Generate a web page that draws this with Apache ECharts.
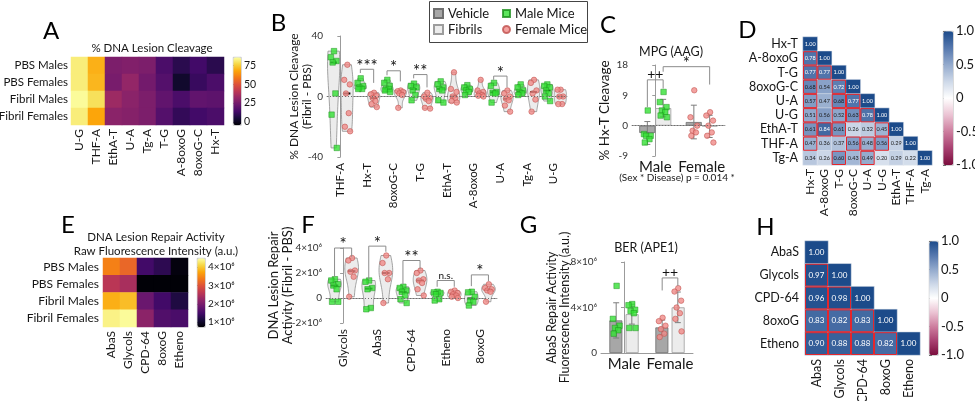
<!DOCTYPE html>
<html><head><meta charset="utf-8">
<script src="https://cdn.jsdelivr.net/npm/echarts@6/dist/echarts.min.js"></script>
<style>html,body{margin:0;padding:0;background:#fff}#c{width:975px;height:401px}</style>
</head><body><div id="c"></div>
<script>
// ================= DATA =================
// Panel A: % DNA lesion cleavage heatmap
const heatRows = ['PBS Males','PBS Females','Fibril Males','Fibril Females'];
const cleaveCats = ['U-G','THF-A','EthA-T','U-A','Tg-A','T-G','A-8oxoG','8oxoG-C','Hx-T'];
const cleavePBSMales      = [82, 70, 27, 28, 27, 16,  9, 14,  9];
const cleavePBSFemales    = [82, 71, 26, 32, 25, 18,  3, 12, 16];
const cleaveFibrilMales   = [85, 79, 34, 30, 27, 21, 16, 21, 20];
const cleaveFibrilFemales = [82, 68, 30, 29, 27, 18, 11, 14, 16];
const cleaveScaleTicks = [0, 25, 50, 75];

// Panel B: difference (Fibril - PBS), per lesion, male / female mice
const lesionCatsB = ['THF-A','Hx-T','8oxoG-C','T-G','EthA-T','A-8oxoG','U-A','Tg-A','U-G'];
const diffMaleB = [
  [30, 26, 23.5, 22.5, 2, -12, -34],
  [12, 9, 7, 6, 5, 5],
  [11, 9, 7, 5, 5, 4, 3],
  [8.5, 7, 6, 4, 1, -2.5],
  [10, 8, 6, 5, 4, -2.5, -4],
  [7.5, 6, 5, 4, 3, 1],
  [9, 7, 3, 2.5, 2, -4],
  [8, 6, 4, 3, 2, 1],
  [8, 7, 6, 4, 2, 0, -3]
];
const diffFemaleB = [
  [21, 11, 8, 2, -11, -20, -23],
  [2.5, 1.5, 0.5, -1, -3, -5, -7],
  [4, 3.5, 3, 2, 1, -7.5],
  [2.5, 0, -1, -1.5, -3, -7.5, -8],
  [16, 5, 3, 0, -1, -3, -4],
  [11, 4, 3, 2, 1, 0.5, 0],
  [4, 2, 0, -1.5, -2.5, -6, -10],
  [11, 9, 4, 2, -2, -10],
  [4.5, 4.5, 0, 0, -5, -5]
];
const sigB_cats = ['Hx-T','8oxoG-C','T-G','U-A'];
const sigB_level = [18, 17, 14.5, 13.5];
const sigB_leftEnd = [15.5, 14, 12, 11];
const sigB_rightEnd = [9, 10, 6, 6];
const sigB_text = ['***','*','**','*'];

// Panel C: MPG (AAG) % Hx-T cleavage
const sexCats = ['Male','Female'];
const mpgMaleVehicle   = [4.5, -2.5, -3, -3, -4, -5];
const mpgMaleFibrils   = [10, 7, 5.5, 4.5, 4, 3, 2.5];
const mpgFemaleVehicle = [10.5, 2.5, 0, -1.5, -2, -3];
const mpgFemaleFibrils = [4, 3, 1.5, 0, -2, -3, -5];
const sigC_from = [[0,0],[0,1]];   // [sex, treatment]
const sigC_to   = [[0,1],[1,1]];
const sigC_level = [13.6, 17.5];
const sigC_leftEnd = [5.5, 16];
const sigC_rightEnd = [11, 12.2];
const sigC_text = ['++','*'];

// Panel D: correlation matrix (lower triangle)
const corrLabelsD = ['Hx-T','A-8oxoG','T-G','8oxoG-C','U-A','U-G','EthA-T','THF-A','Tg-A'];
const corrD = [
  [1.00],
  [0.78, 1.00],
  [0.77, 0.77, 1.00],
  [0.68, 0.54, 0.72, 1.00],
  [0.57, 0.47, 0.68, 0.77, 1.00],
  [0.51, 0.56, 0.52, 0.63, 0.78, 1.00],
  [0.61, 0.84, 0.61, 0.26, 0.32, 0.45, 1.00],
  [0.47, 0.36, 0.37, 0.56, 0.48, 0.56, 0.29, 1.00],
  [0.34, 0.26, 0.60, 0.43, 0.49, 0.20, 0.29, 0.22, 1.00]
];
const sigCellsD = [[1,0],[2,0],[3,0],[4,0],[5,0],[6,0],[7,0],[2,1],[6,1],[3,2],[4,2],[5,2],[6,2],[8,2],[4,3],[5,3],[7,3],[5,4],[7,4],[8,4],[6,5],[7,5]];
const corrTicks = [-1, -0.5, 0, 0.5, 1];

// Panel E: raw fluorescence (x10^6)
const repairCatsE = ['AbaS','Glycols','CPD-64','8oxoG','Etheno'];
const rawPBSMales      = [3.44, 3.20, 1.48, 1.30, 0.80];
const rawPBSFemales    = [2.60, 2.43, 0.75, 0.75, 0.75];
const rawFibrilMales   = [3.82, 3.93, 1.86, 1.48, 1.18];
const rawFibrilFemales = [4.38, 4.46, 2.16, 1.63, 1.56];
const rawScaleTicks = [1, 2, 3, 4];

// Panel F: repair activity difference (x10^6)
const repairCatsF = ['Glycols','AbaS','CPD-64','Etheno','8oxoG'];
const diffMaleF = [
  [1.5, 1.4, 1.1, 1.0, 0.7, -0.3, -0.3],
  [1.4, 1.3, 0.8, 0.7, -0.8, -0.9],
  [0.9, 0.8, 0.6, 0.5, 0.2, -0.1, -0.4],
  [0.5, 0.45, 0.4, 0.3, -0.1, -0.2],
  [0.5, 0.45, 0.1, -0.2, -0.3, -0.6]
];
const diffFemaleF = [
  [3.2, 3.0, 2.2, 2.1, 1.7, 0.1],
  [3.4, 2.8, 2.0, 2.0, 1.5, -0.4],
  [2.2, 2.0, 1.5, 1.4, 1.2, 0.7, 0.2],
  [0.6, 0.5, 0.4, 0.3, 0.2, 0.1, 0],
  [1.1, 0.8, 0.7, 0.6, 0.5, -0.3]
];
const sigF_cats = ['Glycols','AbaS','CPD-64','Etheno','8oxoG'];
const sigF_level = [4.0, 4.15, 3.0, 1.4, 1.85];
const sigF_leftEnd = [1.7, 1.5, 1.1, 0.9, 0.95];
const sigF_rightEnd = [3.3, 3.7, 2.3, 0.9, 1.35];
const sigF_text = ['*','*','**','n.s.','*'];

// Panel G: BER (APE1) AbaS repair (x10^6)
const apeMaleVehicle   = [5.9, 3.0, 2.4, 2.2, 2.0, 1.7];
const apeMaleFibrils   = [4.3, 4.2, 3.8, 3.7, 3.5, 2.2, 2.2];
const apeFemaleVehicle = [3.1, 2.8, 2.4, 2.1, 1.7, 1.4];
const apeFemaleFibrils = [5.7, 5.4, 4.6, 4.0, 3.5, 3.0, 1.9];
const sigG_from = [[1,0]];
const sigG_to   = [[1,1]];
const sigG_level = [6.6];
const sigG_leftEnd = [5.5];
const sigG_rightEnd = [5.9];
const sigG_text = ['++'];

// Panel H: correlation matrix
const corrLabelsH = ['AbaS','Glycols','CPD-64','8oxoG','Etheno'];
const corrH = [
  [1.00],
  [0.97, 1.00],
  [0.96, 0.98, 1.00],
  [0.83, 0.82, 0.83, 1.00],
  [0.90, 0.88, 0.88, 0.82, 1.00]
];
const sigCellsH = [[1,0],[2,0],[2,1],[3,0],[3,1],[3,2],[4,0],[4,1],[4,2],[4,3]];

// ================= STYLE / HELPERS =================
const FONT = 'Lato, "Noto Sans", "DejaVu Sans", sans-serif';
const TXT = '#161616';
const AX = '#9b9b9b';
const INFERNO = ['#000004','#160b39','#420a68','#6a176e','#932667','#bc3754','#dd513a','#f37819','#fca50a','#f6d746','#fcffa4'];
const DIVERGE = ['#7a0d3d','#a84070','#cd7d9e','#ebc3d3','#ffffff','#cdd8e8','#93aacd','#5678ae','#1c4b8a'];
const JIT = [0.1, -0.8, 0.8, -0.3, 0.5, -0.6, 0.9, -0.2];
const GREEN = {color:'#35e035', borderColor:'#1c8f1c', borderWidth:0.6};
const PINK = {color:'#f08b88', borderColor:'#c0504d', borderWidth:0.7};

const mean = a => a.reduce((s,v)=>s+v,0)/a.length;
const sd = a => { const m = mean(a); return Math.sqrt(a.reduce((s,v)=>s+(v-m)*(v-m),0)/(a.length-1)); };

function heatData(rows){ const d=[]; rows.forEach((r,ri)=>r.forEach((v,ci)=>d.push([ci,ri,v]))); return d; }
function corrData(mat){ const d=[]; mat.forEach((r,ri)=>r.forEach((v,ci)=>d.push({value:[ci,ri,v], label:{color: v>=0.7?'#ffffff':'#1a1a1a'}}))); return d; }

function violinShape(vals, cx, halfW, api){
  const s = vals.slice().sort((a,b)=>a-b);
  const n = s.length, lo = s[0], hi = s[n-1];
  const h = Math.max(1.06*sd(s)*Math.pow(n,-0.2), 1e-6);
  const steps = 28, ys=[], ds=[];
  for(let k=0;k<=steps;k++){ const y=lo+(hi-lo)*k/steps; let d=0; for(const v of s) d+=Math.exp(-0.5*((y-v)/h)*((y-v)/h)); ys.push(y); ds.push(d); }
  const dmax = Math.max(...ds);
  const L=[], R=[];
  for(let k=0;k<=steps;k++){ const w=halfW*(0.12+0.88*ds[k]/dmax); L.push(api.coord([cx-w,ys[k]])); R.push(api.coord([cx+w,ys[k]])); }
  const med = n%2 ? s[(n-1)/2] : (s[n/2-1]+s[n/2])/2;
  const m1 = api.coord([cx-halfW*0.55, med]), m2 = api.coord([cx+halfW*0.55, med]);
  return {type:'group', children:[
    {type:'polygon', shape:{points:L.concat(R.reverse())}, style:{fill:'#ececec', stroke:'#8d8d8d', lineWidth:0.8}},
    {type:'line', shape:{x1:m1[0],y1:m1[1],x2:m2[0],y2:m2[1]}, style:{stroke:'#000', lineWidth:2}}
  ]};
}
function violinSeries(xi, yi, maleArr, femArr, off, halfW){
  const data=[]; maleArr.forEach((_,i)=>{ data.push([i-off,0]); data.push([i+off,0]); });
  return {type:'custom', xAxisIndex:xi, yAxisIndex:yi, silent:true, z:1, data,
    renderItem:(params, api)=>{ const i=Math.floor(params.dataIndex/2), s=params.dataIndex%2;
      return violinShape((s?femArr:maleArr)[i], i+(s?off:-off), halfW, api); }};
}
function groupPoints(groups, amp){ // groups: [[centerX, values], ...]
  const pts=[]; groups.forEach(([cx, vals])=>vals.forEach((v,k)=>pts.push([cx+JIT[k%JIT.length]*amp, v]))); return pts;
}
function scatterSeries(name, xi, yi, pts, sex, zeroLine){
  const s = {name, type:'scatter', xAxisIndex:xi, yAxisIndex:yi, z:4, silent:true, data:pts,
    symbol: sex===0?'rect':'circle', symbolSize: sex===0?5.5:5.5, itemStyle: sex===0?GREEN:PINK};
  if(zeroLine) s.markLine = {silent:true, symbol:'none', label:{show:false}, lineStyle:{type:[1,2], color:'#6f6f6f', width:1}, data:[{yAxis:0}]};
  return s;
}
function bracketSeries(xi, yi, x1s, x2s, levels, lefts, rights, texts){
  return {type:'custom', xAxisIndex:xi, yAxisIndex:yi, silent:true, z:5,
    data: levels.map((l,i)=>[(x1s[i]+x2s[i])/2, l]),
    renderItem:(params, api)=>{ const i=params.dataIndex;
      const a=api.coord([x1s[i], lefts[i]]), b=api.coord([x1s[i], levels[i]]), c=api.coord([x2s[i], levels[i]]), d=api.coord([x2s[i], rights[i]]);
      const t=texts[i]; const isStar=t.indexOf('*')>=0, isNs=t==='n.s.';
      const fs = isStar?17:(isNs?10:14); const dy = isStar?3:(isNs?5:5);
      return {type:'group', children:[
        {type:'polyline', shape:{points:[a,b,c,d]}, style:{stroke:'#8c8c8c', lineWidth:1, fill:'none'}},
        {type:'text', x:(b[0]+c[0])/2, y:b[1]-dy, style:{text:t, fontSize:fs, fontFamily:FONT, fill:'#111', align:'center', verticalAlign:'middle', textAlign:'center', textVerticalAlign:'middle'}}
      ]}; }};
}
function errSeries(xi, yi, items){
  return {type:'custom', xAxisIndex:xi, yAxisIndex:yi, silent:true, z:3, data:items,
    renderItem:(params, api)=>{ const x=api.value(0), m=api.value(1), e=api.value(2);
      const t=api.coord([x,m+e]), b=api.coord([x,m-e]);
      return {type:'group', children:[
        {type:'line', shape:{x1:t[0],y1:t[1],x2:b[0],y2:b[1]}, style:{stroke:'#7d7d7d', lineWidth:1}},
        {type:'line', shape:{x1:t[0]-3,y1:t[1],x2:t[0]+3,y2:t[1]}, style:{stroke:'#7d7d7d', lineWidth:1}},
        {type:'line', shape:{x1:b[0]-3,y1:b[1],x2:b[0]+3,y2:b[1]}, style:{stroke:'#7d7d7d', lineWidth:1}}
      ]}; }};
}
function outlineSeries(xi, yi, cells){
  return {type:'custom', xAxisIndex:xi, yAxisIndex:yi, silent:true, z:6, data:cells.map(c=>[c[1],c[0]]),
    renderItem:(params, api)=>{ const p=api.coord([api.value(0),api.value(1)]); const s=api.size([1,1]);
      return {type:'rect', shape:{x:p[0]-s[0]/2+0.5, y:p[1]-s[1]/2+0.5, width:s[0]-1, height:s[1]-1}, style:{fill:'none', stroke:'#e5262c', lineWidth:1}}; }};
}
const sup6 = v => v===0 ? '0' : v + '×10⁶';
const hideAxis = g => ({gridIndex:g, type:'value', min:0, max:1, show:false});
const heatCatX = (g, data, fs) => ({gridIndex:g, type:'category', data, axisLine:{show:false}, axisTick:{show:false}, splitLine:{show:false}, axisLabel:{interval:0, rotate:90, fontSize:fs, margin:4, color:TXT}});
const heatCatY = (g, data, fs, margin) => ({gridIndex:g, type:'category', data, inverse:true, axisLine:{show:false}, axisTick:{show:false}, splitLine:{show:false}, axisLabel:{interval:0, fontSize:fs, margin:margin, color:TXT}});
const cbAxis = (g, min, max, ticks, fmt, fs) => ({gridIndex:g, type:'value', min, max, position:'right', splitLine:{show:false}, axisLine:{show:false},
  axisTick:{show:true, length:3, customValues:ticks, lineStyle:{color:'#555'}}, axisLabel:{customValues:ticks, formatter:fmt, fontSize:fs, margin:3, color:TXT}});
const plotCatX = (g, data, fs, rot) => ({gridIndex:g, type:'category', data, axisLine:{lineStyle:{color:AX}}, axisTick:{alignWithLabel:true, interval:0, length:4, lineStyle:{color:AX}}, splitLine:{show:false}, axisLabel:{interval:0, rotate:rot, fontSize:fs, margin:rot?6:4, color:TXT}});
const plotValX = (g, n) => ({gridIndex:g, type:'value', min:-0.5, max:n-0.5, show:false});
const plotValY = (g, min, max, interval, fmt, name, gap, nfs) => ({gridIndex:g, type:'value', min, max, interval, splitLine:{show:false},
  axisLine:{show:true, lineStyle:{color:AX}}, axisTick:{show:true, length:3, lineStyle:{color:AX}}, axisLabel:{formatter:fmt, fontSize:10, margin:4, color:'#333'},
  name, nameLocation:'middle', nameGap:gap, nameMoveOverlap:false, nameTextStyle:{fontSize:nfs, color:TXT, lineHeight:nfs+1}});

// ================= DERIVED SERIES DATA =================
const OFFB = 0.25, OFFC = 0.17;
const bMale = groupPoints(diffMaleB.map((v,i)=>[i-OFFB, v]), 0.13);
const bFemale = groupPoints(diffFemaleB.map((v,i)=>[i+OFFB, v]), 0.13);
const fMale = groupPoints(diffMaleF.map((v,i)=>[i-OFFB, v]), 0.12);
const fFemale = groupPoints(diffFemaleF.map((v,i)=>[i+OFFB, v]), 0.12);
const cGroups = [[mpgMaleVehicle, mpgMaleFibrils],[mpgFemaleVehicle, mpgFemaleFibrils]];
const gGroups = [[apeMaleVehicle, apeMaleFibrils],[apeFemaleVehicle, apeFemaleFibrils]];
const gx = (sex, tr) => sex + (tr ? OFFC : -OFFC);
const cMale = groupPoints([[gx(0,0), mpgMaleVehicle],[gx(0,1), mpgMaleFibrils]], 0.09);
const cFemale = groupPoints([[gx(1,0), mpgFemaleVehicle],[gx(1,1), mpgFemaleFibrils]], 0.09);
const gMale = groupPoints([[gx(0,0), apeMaleVehicle],[gx(0,1), apeMaleFibrils]], 0.09);
const gFemale = groupPoints([[gx(1,0), apeFemaleVehicle],[gx(1,1), apeFemaleFibrils]], 0.09);
const errItems = groups => { const r=[]; groups.forEach((pair,s)=>pair.forEach((vals,t)=>r.push([gx(s,t), mean(vals), sd(vals)]))); return r; };

const VEH = {color:'#a7a7a7', borderColor:'#6f6f6f', borderWidth:0.8};
const FIB = {color:'#ececec', borderColor:'#9d9d9d', borderWidth:0.8};

// ================= OPTION =================
const letter = (t, x, y) => ({type:'text', x, y, style:{text:t, font:'24px '+FONT, fill:'#000', align:'center', verticalAlign:'middle', textAlign:'center', textVerticalAlign:'middle'}});
const label = (t, x, y, fs) => ({type:'text', x, y, style:{text:t, font:fs+'px '+FONT, fill:TXT, align:'center', verticalAlign:'middle', textAlign:'center', textVerticalAlign:'middle'}});

const option = {
  animation:false,
  textStyle:{fontFamily:FONT, color:TXT},
  grid:[
    {left:71, top:57, width:153, height:68},
    {left:233, top:57, width:8, height:68},
    {left:327, top:36, width:240, height:121},
    {left:632, top:65, width:93, height:91},
    {left:803, top:37, width:129, height:128},
    {left:943, top:31, width:10, height:134},
    {left:103, top:258, width:85, height:69},
    {left:197, top:258, width:8, height:69},
    {left:326, top:248, width:171, height:75},
    {left:601, top:262, width:92, height:91},
    {left:805, top:241, width:115, height:114},
    {left:929, top:241, width:9, height:114}
  ].map(g=>Object.assign(g,{outerBoundsMode:'none', containLabel:false})),
  xAxis:[
    heatCatX(0, cleaveCats, 12),           //0
    hideAxis(1),                            //1
    plotCatX(2, lesionCatsB, 11.5, 90),     //2
    plotValX(2, lesionCatsB.length),        //3
    plotCatX(3, sexCats, 15, 0),            //4
    plotValX(3, 2),                         //5
    heatCatX(4, corrLabelsD, 12),           //6
    hideAxis(5),                            //7
    heatCatX(6, repairCatsE, 12),           //8
    hideAxis(7),                            //9
    plotCatX(8, repairCatsF, 12, 90),       //10
    plotValX(8, repairCatsF.length),        //11
    plotCatX(9, sexCats, 15, 0),            //12
    plotValX(9, 2),                         //13
    heatCatX(10, corrLabelsH, 12.5),        //14
    hideAxis(11)                            //15
  ],
  yAxis:[
    heatCatY(0, heatRows, 11.5, 3),                                           //0
    cbAxis(1, -4, 86, cleaveScaleTicks, v=>v, 10.5),                          //1
    plotValY(2, -40, 40, 40, v=>v, '% DNA Lesion Cleavage\n(Fibril - PBS)', 13, 12), //2
    plotValY(3, -9, 18, 9, v=>v, '% Hx-T Cleavage', 20, 13.5),                //3
    heatCatY(4, corrLabelsD, 12.5, 5),                                        //4
    cbAxis(5, -1, 1, corrTicks, v=>v===0?'0':v.toFixed(1), 13),               //5
    heatCatY(6, heatRows, 12, 4),                                             //6
    cbAxis(7, 0.73, 4.5, rawScaleTicks, sup6, 10),                            //7
    plotValY(8, -2, 4, 2, sup6, 'DNA Lesion Repair\nActivity (Fibril - PBS)', 31, 13), //8
    plotValY(9, 0, 8, 4, sup6, 'AbaS Repair Activity\nFluorescence Intensity (a.u.)', 29, 12.5), //9
    heatCatY(10, corrLabelsH, 12.5, 6),                                       //10
    cbAxis(11, -1, 1, corrTicks, v=>v===0?'0':v.toFixed(1), 13)               //11
  ],
  visualMap:[
    {type:'continuous', seriesIndex:[0], min:-4, max:86, inRange:{color:INFERNO}, calculable:false, hoverLink:false, orient:'vertical', left:233, top:57, itemWidth:8, itemHeight:68, padding:0, borderColor:'#999', borderWidth:0.5},
    {type:'continuous', seriesIndex:[1], min:-1, max:1, inRange:{color:DIVERGE}, calculable:false, hoverLink:false, orient:'vertical', left:943, top:31, itemWidth:10, itemHeight:134, padding:0, borderColor:'#999', borderWidth:0.5},
    {type:'continuous', seriesIndex:[2], min:0.73, max:4.5, inRange:{color:INFERNO}, calculable:false, hoverLink:false, orient:'vertical', left:197, top:258, itemWidth:8, itemHeight:69, padding:0, borderColor:'#999', borderWidth:0.5},
    {type:'continuous', seriesIndex:[3], min:-1, max:1, inRange:{color:DIVERGE}, calculable:false, hoverLink:false, orient:'vertical', left:929, top:241, itemWidth:9, itemHeight:114, padding:0, borderColor:'#999', borderWidth:0.5}
  ],
  legend:[
    {data:[{name:'Vehicle', icon:'rect'},{name:'Fibrils', icon:'rect'}], orient:'vertical', left:433, top:7, padding:0, itemGap:3, itemWidth:9, itemHeight:9, textStyle:{fontSize:13, color:TXT}, selectedMode:false},
    {data:[{name:'Male Mice', icon:'rect'},{name:'Female Mice', icon:'circle'}], orient:'vertical', left:502, top:7, padding:0, itemGap:3, itemWidth:7, itemHeight:7, textStyle:{fontSize:13, color:TXT}, selectedMode:false}
  ],
  graphic:[
    {type:'rect', shape:{x:429.5, y:1.5, width:158, height:41}, style:{fill:'none', stroke:'#444', lineWidth:1}},
    letter('A',51,31.5), letter('B',278.5,23.5), letter('C',608,25.5), letter('D',747.5,30),
    letter('E',68,225.5), letter('F',308,225), letter('G',528.5,225.5), letter('H',765.5,227.5),
    label('% DNA Lesion Cleavage',152,48,11.5),
    label('MPG (AAG)',671,52,12.5),
    label('(Sex * Disease) p = 0.014 *',677,178,10),
    label('DNA Lesion Repair Activity',156,237,11.5),
    label('Raw Fluorescence Intensity (a.u.)',156,251,11.5),
    label('BER (APE1)',646,248,12.5)
  ],
  series:[
    // 0 A heatmap
    {type:'heatmap', xAxisIndex:0, yAxisIndex:0, silent:true, data:heatData([cleavePBSMales, cleavePBSFemales, cleaveFibrilMales, cleaveFibrilFemales]), itemStyle:{borderWidth:0}},
    // 1 D heatmap
    {type:'heatmap', xAxisIndex:6, yAxisIndex:4, silent:true, data:corrData(corrD), itemStyle:{borderColor:'#e4e8ef', borderWidth:0.5},
      label:{show:true, fontSize:5.5, formatter:p=>p.value[2].toFixed(2)}},
    // 2 E heatmap
    {type:'heatmap', xAxisIndex:8, yAxisIndex:6, silent:true, data:heatData([rawPBSMales, rawPBSFemales, rawFibrilMales, rawFibrilFemales]), itemStyle:{borderWidth:0}},
    // 3 H heatmap
    {type:'heatmap', xAxisIndex:14, yAxisIndex:10, silent:true, data:corrData(corrH), itemStyle:{borderColor:'#e4e8ef', borderWidth:0.5},
      label:{show:true, fontSize:8, formatter:p=>p.value[2].toFixed(2)}},
    // 4,5 significance outlines
    outlineSeries(6, 4, sigCellsD),
    outlineSeries(14, 10, sigCellsH),
    // 6-9 B
    violinSeries(3, 2, diffMaleB, diffFemaleB, OFFB, 0.23),
    scatterSeries('Male Mice', 3, 2, bMale, 0, true),
    scatterSeries('Female Mice', 3, 2, bFemale, 1, false),
    bracketSeries(3, 2, sigB_cats.map(c=>lesionCatsB.indexOf(c)-OFFB), sigB_cats.map(c=>lesionCatsB.indexOf(c)+OFFB), sigB_level, sigB_leftEnd, sigB_rightEnd, sigB_text),
    // 10-15 C
    {name:'Vehicle', type:'bar', xAxisIndex:4, yAxisIndex:3, silent:true, barWidth:16, barGap:'0%', z:2, itemStyle:VEH, data:cGroups.map(p=>mean(p[0]))},
    {name:'Fibrils', type:'bar', xAxisIndex:4, yAxisIndex:3, silent:true, barWidth:16, barGap:'0%', z:2, itemStyle:FIB, data:cGroups.map(p=>mean(p[1]))},
    errSeries(5, 3, errItems(cGroups)),
    scatterSeries('Male Mice', 5, 3, cMale, 0, true),
    scatterSeries('Female Mice', 5, 3, cFemale, 1, false),
    bracketSeries(5, 3, sigC_from.map(p=>gx(p[0],p[1])), sigC_to.map(p=>gx(p[0],p[1])), sigC_level, sigC_leftEnd, sigC_rightEnd, sigC_text),
    // 16-19 F
    violinSeries(11, 8, diffMaleF, diffFemaleF, OFFB, 0.2),
    scatterSeries('Male Mice', 11, 8, fMale, 0, true),
    scatterSeries('Female Mice', 11, 8, fFemale, 1, false),
    bracketSeries(11, 8, sigF_cats.map(c=>repairCatsF.indexOf(c)-OFFB), sigF_cats.map(c=>repairCatsF.indexOf(c)+OFFB), sigF_level, sigF_leftEnd, sigF_rightEnd, sigF_text),
    // 20-25 G
    {name:'Vehicle', type:'bar', xAxisIndex:12, yAxisIndex:9, silent:true, barWidth:13, barGap:'25%', z:2, itemStyle:VEH, data:gGroups.map(p=>mean(p[0]))},
    {name:'Fibrils', type:'bar', xAxisIndex:12, yAxisIndex:9, silent:true, barWidth:13, barGap:'25%', z:2, itemStyle:FIB, data:gGroups.map(p=>mean(p[1]))},
    errSeries(13, 9, errItems(gGroups)),
    scatterSeries('Male Mice', 13, 9, gMale, 0, false),
    scatterSeries('Female Mice', 13, 9, gFemale, 1, false),
    bracketSeries(13, 9, sigG_from.map(p=>gx(p[0],p[1])), sigG_to.map(p=>gx(p[0],p[1])), sigG_level, sigG_leftEnd, sigG_rightEnd, sigG_text)
  ]
};
const chart = echarts.init(document.getElementById('c'), null, {renderer:'canvas', width:975, height:401});
chart.setOption(option);
</script>
</body></html>
